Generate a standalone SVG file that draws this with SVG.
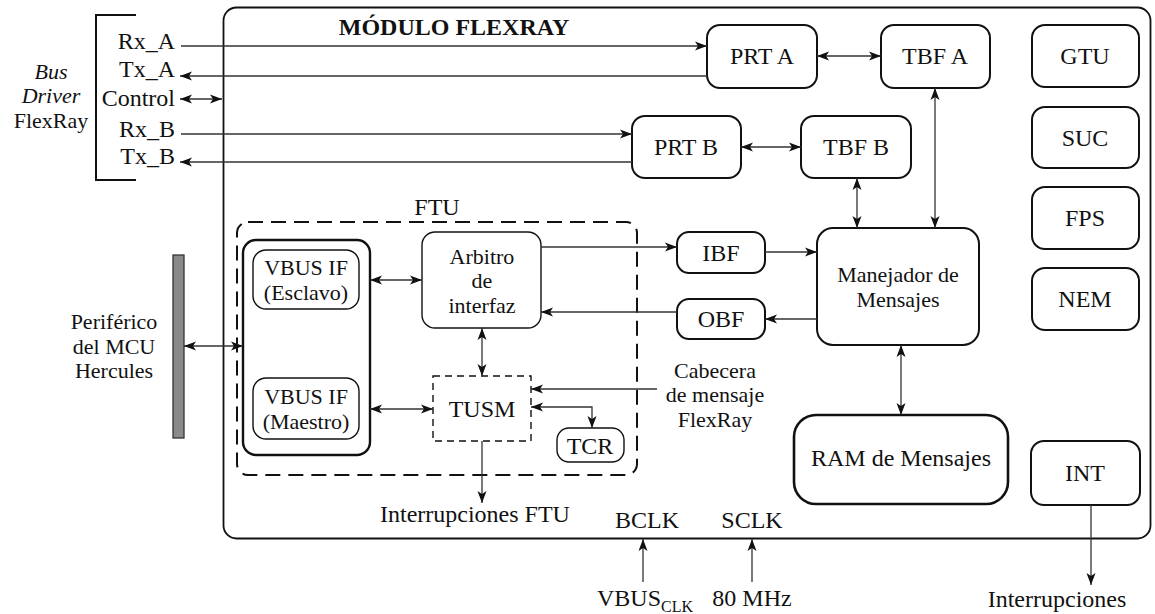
<svg xmlns="http://www.w3.org/2000/svg" width="1155" height="614" viewBox="0 0 1155 614">
  <style>
    text { font-family: "Liberation Serif", "Times New Roman", serif; font-size: 24px; fill: #111; }
    .ml { font-size: 22px; }
    .c { text-anchor: middle; }
    .r { text-anchor: end; }
    .it { font-style: italic; }
    .box { fill: #fff; stroke: #111; stroke-width: 2; }
    .thin { fill: #fff; stroke: #111; stroke-width: 1.4; }
    .thick { fill: #fff; stroke: #111; stroke-width: 2.6; }
    .ln { fill: none; stroke: #333; stroke-width: 1.3; }
    .a1 { marker-end: url(#ah); }
    .a2 { marker-start: url(#ah); marker-end: url(#ah); }
  </style>
  <defs>
    <marker id="ah" viewBox="0 0 12 10" refX="12" refY="5" markerWidth="12" markerHeight="10" markerUnits="userSpaceOnUse" orient="auto-start-reverse">
      <path d="M0,0.5 L12,5 L0,9.5 L3,5 z" fill="#111"/>
    </marker>
  </defs>

  <rect width="1155" height="614" fill="#fff"/>

  <!-- FlexRay module frame -->
  <g id="modulo">
    <rect x="223.5" y="7.5" width="927" height="531" rx="13" fill="none" stroke="#111" stroke-width="1.8"/>
    <text class="c" x="454" y="35" font-weight="bold">MÓDULO FLEXRAY</text>
  </g>

  <!-- Bus driver bracket and signal names -->
  <g id="bus-driver">
    <path d="M136,15 H96 V180 H136" fill="none" stroke="#111" stroke-width="2"/>
    <text class="c ml" x="51" y="78.5"><tspan class="it">Bus</tspan><tspan class="it" x="51" dy="24.5">Driver</tspan><tspan x="51" dy="24.5">FlexRay</tspan></text>
    <text class="r" x="175" y="49">Rx_A</text>
    <text class="r" x="175" y="77">Tx_A</text>
    <text class="r" x="175" y="106">Control</text>
    <text class="r" x="175" y="137">Rx_B</text>
    <text class="r" x="175" y="164">Tx_B</text>
  </g>

  <!-- MCU peripheral bus bar -->
  <g id="periferico">
    <rect x="173" y="255" width="11" height="183" fill="#8a8a8a" stroke="#333" stroke-width="1.3"/>
    <text class="c ml" x="114" y="329">Periférico<tspan x="114" dy="24.5">del MCU</tspan><tspan x="114" dy="24.5">Hercules</tspan></text>
  </g>

  <g id="prt-a"><rect class="box" x="707" y="25" width="110" height="63" rx="13"/><text class="c" x="762" y="64">PRT A</text></g>
  <g id="tbf-a"><rect class="box" x="881" y="25" width="109" height="63" rx="13"/><text class="c" x="935" y="64">TBF A</text></g>
  <g id="prt-b"><rect class="box" x="632" y="116" width="109" height="62" rx="13"/><text class="c" x="686" y="155">PRT B</text></g>
  <g id="tbf-b"><rect class="box" x="801" y="116" width="110" height="62" rx="13"/><text class="c" x="856" y="155">TBF B</text></g>

  <g id="gtu"><rect class="box" x="1032" y="25" width="107" height="62" rx="13"/><text class="c" x="1085" y="64">GTU</text></g>
  <g id="suc"><rect class="box" x="1032" y="107" width="107" height="61" rx="13"/><text class="c" x="1085" y="146">SUC</text></g>
  <g id="fps"><rect class="box" x="1032" y="187" width="107" height="62" rx="13"/><text class="c" x="1085" y="226">FPS</text></g>
  <g id="nem"><rect class="box" x="1032" y="268" width="107" height="62" rx="13"/><text class="c" x="1085" y="307">NEM</text></g>

  <g id="ibf"><rect class="box" x="677" y="232" width="88" height="41" rx="12"/><text class="c" x="721" y="261">IBF</text></g>
  <g id="obf"><rect class="box" x="677" y="299" width="88" height="40" rx="12"/><text class="c" x="721" y="327">OBF</text></g>

  <g id="manejador">
    <rect class="box" x="817" y="228" width="162" height="117" rx="16"/>
    <text class="c ml" x="898" y="282">Manejador de<tspan x="898" dy="24.5">Mensajes</tspan></text>
  </g>

  <g id="ram"><rect class="thick" x="794" y="415" width="214" height="89" rx="22"/><text class="c" x="901" y="466">RAM de Mensajes</text></g>
  <g id="int"><rect class="box" x="1031" y="441" width="109" height="64" rx="13"/><text class="c" x="1085" y="481">INT</text></g>

  <!-- FTU block -->
  <g id="ftu">
    <rect x="237" y="222" width="400" height="253" rx="11" fill="none" stroke="#111" stroke-width="2" stroke-dasharray="15,8"/>
    <text class="c" x="437" y="215">FTU</text>
  </g>
  <g id="vbus">
    <rect x="243" y="240" width="127" height="215" rx="13" fill="#fff" stroke="#111" stroke-width="2.4"/>
  </g>
  <g id="vbus-esclavo"><rect class="thin" x="253" y="250" width="106" height="59" rx="13"/><text class="c ml" x="306" y="275">VBUS IF<tspan x="306" dy="24.5">(Esclavo)</tspan></text></g>
  <g id="vbus-maestro"><rect class="thin" x="253" y="378" width="106" height="61" rx="13"/><text class="c ml" x="306" y="404">VBUS IF<tspan x="306" dy="24.5">(Maestro)</tspan></text></g>
  <g id="arbitro">
    <rect class="thin" x="422" y="232" width="119" height="96" rx="13"/>
    <text class="c ml" x="482" y="263.5">Arbitro<tspan x="482" dy="24.5">de</tspan><tspan x="482" dy="24.5">interfaz</tspan></text>
  </g>
  <g id="tusm">
    <rect x="433" y="376" width="98" height="65" fill="#fff" stroke="#111" stroke-width="1.4" stroke-dasharray="7,5"/>
    <text class="c" x="482" y="417">TUSM</text>
  </g>
  <g id="tcr"><rect class="thin" x="557" y="428" width="67" height="34" rx="12"/><text class="c" x="590" y="454">TCR</text></g>

  <!-- free labels -->
  <g id="labels">
    <text class="c ml" x="715" y="377.5">Cabecera<tspan x="715" dy="24.5">de mensaje</tspan><tspan x="715" dy="24.5">FlexRay</tspan></text>
    <text x="380" y="522">Interrupciones FTU</text>
    <text class="c" x="647" y="528">BCLK</text>
    <text class="c" x="752" y="528">SCLK</text>
    <text x="597" y="606">VBUS<tspan font-size="16" dy="6">CLK</tspan></text>
    <text class="c" x="752" y="606">80 MHz</text>
    <text class="c" x="1057" y="607">Interrupciones</text>
  </g>

  <!-- connectors -->
  <g id="connectors">
    <path class="ln a1" d="M181,46 H707"/>
    <path class="ln a1" d="M707,76 H180"/>
    <path class="ln a2" d="M180,99 H222"/>
    <path class="ln a1" d="M181,134 H632"/>
    <path class="ln a1" d="M632,162 H180"/>
    <path class="ln a2" d="M817,56 H881"/>
    <path class="ln a2" d="M741,147 H801"/>
    <path class="ln a2" d="M935,88 V228"/>
    <path class="ln a2" d="M857,178 V228"/>
    <path class="ln a1" d="M541,247 H677"/>
    <path class="ln a1" d="M765,252 H817"/>
    <path class="ln a1" d="M817,319 H765"/>
    <path class="ln a1" d="M677,312 H541"/>
    <path class="ln a2" d="M901,345 V415"/>
    <path class="ln a1" d="M1091,505 V585"/>
    <path class="ln a1" d="M643,582 V539"/>
    <path class="ln a1" d="M752,582 V539"/>
    <path class="ln a2" d="M184,346 H243"/>
    <path class="ln a2" d="M370,280 H422"/>
    <path class="ln a2" d="M370,409 H433"/>
    <path class="ln a2" d="M482,328 V376"/>
    <path class="ln a1" d="M657,389 H531"/>
    <path class="ln a2" d="M531,407 H592 V428"/>
    <path class="ln a1" d="M482,441 V503"/>
  </g>
</svg>
